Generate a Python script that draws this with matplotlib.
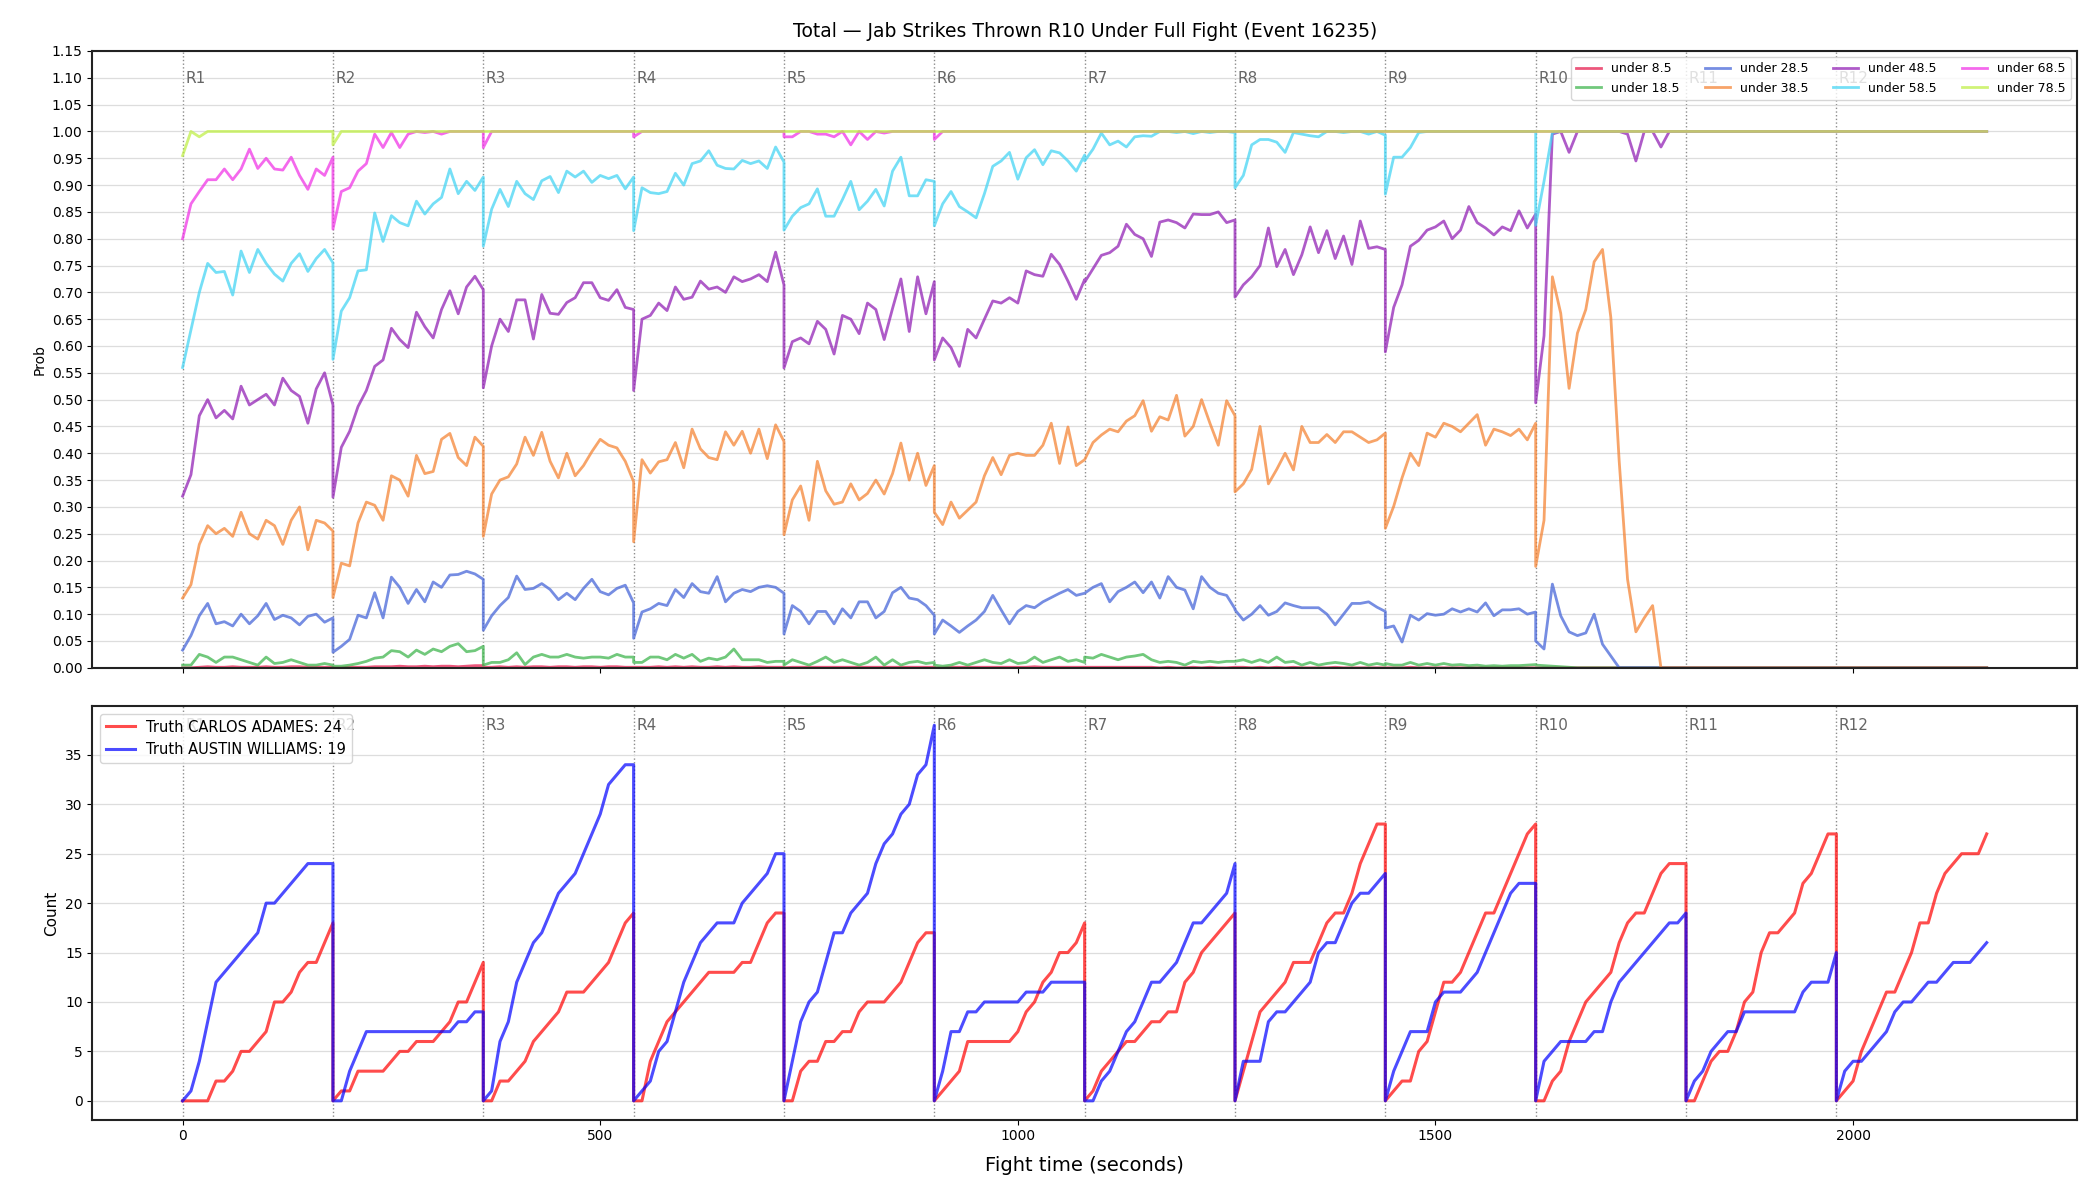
import numpy as np
import matplotlib
matplotlib.use("Agg")
import matplotlib.pyplot as plt

ROUND_LEN = 180
FIGHT_END = 2160
round_starts = list(range(0, FIGHT_END, ROUND_LEN))   # R1..R12
step_t = list(range(0, 181, 10))                       # samples inside a round

# ---- top panel: P(total < line), rounds 1-10, one value every 10 s ----
u85 = [
    [0.0, 0.0, 0.001, 0.002, 0.001, 0.001, 0.002, 0.001, 0.001, 0.001, 0.002, 0.001, 0.001, 0.002, 0.002, 0.001, 0.001, 0.001, 0.001],
    [0.0, 0.0, 0.001, 0.001, 0.001, 0.002, 0.002, 0.002, 0.003, 0.002, 0.002, 0.003, 0.002, 0.003, 0.003, 0.002, 0.003, 0.004, 0.004],
    [0.001, 0.001, 0.002, 0.001, 0.002, 0.001, 0.002, 0.002, 0.001, 0.002, 0.002, 0.001, 0.002, 0.002, 0.001, 0.002, 0.002, 0.001, 0.001],
    [0.001, 0.001, 0.001, 0.002, 0.001, 0.002, 0.001, 0.002, 0.001, 0.001, 0.002, 0.001, 0.002, 0.001, 0.001, 0.002, 0.001, 0.001, 0.001],
    [0.0, 0.001, 0.001, 0.001, 0.001, 0.001, 0.001, 0.001, 0.001, 0.001, 0.001, 0.001, 0.001, 0.001, 0.001, 0.001, 0.001, 0.001, 0.001],
    [0.0, 0.0, 0.001, 0.001, 0.001, 0.001, 0.001, 0.001, 0.001, 0.001, 0.001, 0.001, 0.002, 0.001, 0.001, 0.001, 0.001, 0.001, 0.001],
    [0.001, 0.001, 0.001, 0.001, 0.001, 0.001, 0.001, 0.001, 0.001, 0.0, 0.001, 0.0, 0.0, 0.001, 0.0, 0.001, 0.0, 0.0, 0.001],
    [0.001, 0.001, 0.0, 0.001, 0.0, 0.001, 0.0, 0.001, 0.0, 0.0, 0.0, 0.0, 0.001, 0.0, 0.0, 0.0, 0.0, 0.0, 0.0],
    [0.0, 0.0, 0.0, 0.001, 0.0, 0.0, 0.0, 0.0, 0.0, 0.0, 0.0, 0.0, 0.0, 0.0, 0.0, 0.0, 0.0, 0.0, 0.0],
    [0.0, 0.0, 0.0, 0.0, 0.0, 0.0, 0.0, 0.0, 0.0, 0.0, 0.0, 0.0, 0.0, 0.0, 0.0, 0.0, 0.0, 0.0, 0.0],
]
u185 = [
    [0.005, 0.005, 0.025, 0.02, 0.01, 0.02, 0.02, 0.015, 0.01, 0.005, 0.02, 0.008, 0.01, 0.015, 0.01, 0.005, 0.005, 0.008, 0.005],
    [0.003, 0.003, 0.005, 0.008, 0.012, 0.018, 0.02, 0.032, 0.03, 0.02, 0.033, 0.025, 0.035, 0.03, 0.04, 0.045, 0.03, 0.032, 0.04],
    [0.005, 0.01, 0.01, 0.015, 0.028, 0.006, 0.02, 0.025, 0.02, 0.02, 0.025, 0.02, 0.018, 0.02, 0.02, 0.018, 0.025, 0.02, 0.02],
    [0.01, 0.01, 0.02, 0.02, 0.015, 0.025, 0.018, 0.025, 0.012, 0.018, 0.015, 0.02, 0.035, 0.015, 0.015, 0.015, 0.01, 0.012, 0.012],
    [0.005, 0.015, 0.01, 0.005, 0.012, 0.02, 0.01, 0.015, 0.01, 0.005, 0.01, 0.02, 0.005, 0.015, 0.005, 0.01, 0.012, 0.008, 0.01],
    [0.005, 0.003, 0.005, 0.01, 0.005, 0.01, 0.015, 0.01, 0.008, 0.015, 0.008, 0.01, 0.02, 0.01, 0.015, 0.02, 0.012, 0.015, 0.01],
    [0.02, 0.018, 0.025, 0.02, 0.015, 0.02, 0.022, 0.025, 0.015, 0.01, 0.012, 0.01, 0.005, 0.012, 0.01, 0.012, 0.01, 0.012, 0.012],
    [0.012, 0.015, 0.01, 0.015, 0.01, 0.02, 0.01, 0.012, 0.005, 0.01, 0.005, 0.008, 0.01, 0.008, 0.005, 0.01, 0.005, 0.008, 0.005],
    [0.008, 0.005, 0.005, 0.01, 0.005, 0.008, 0.005, 0.008, 0.005, 0.006, 0.004, 0.005, 0.003, 0.004, 0.003, 0.004, 0.004, 0.005, 0.006],
    [0.005, 0.004, 0.003, 0.002, 0.001, 0.0, 0.0, 0.0, 0.0, 0.0, 0.0, 0.0, 0.0, 0.0, 0.0, 0.0, 0.0, 0.0, 0.0],
]
u285 = [
    [0.033, 0.06, 0.097, 0.12, 0.082, 0.086, 0.078, 0.10, 0.082, 0.097, 0.12, 0.09, 0.098, 0.093, 0.08, 0.096, 0.10, 0.085, 0.093],
    [0.029, 0.04, 0.053, 0.098, 0.093, 0.14, 0.093, 0.169, 0.15, 0.12, 0.146, 0.123, 0.16, 0.15, 0.173, 0.174, 0.18, 0.175, 0.165],
    [0.07, 0.097, 0.116, 0.131, 0.171, 0.146, 0.148, 0.157, 0.146, 0.127, 0.139, 0.127, 0.148, 0.165, 0.142, 0.136, 0.148, 0.154, 0.121],
    [0.055, 0.104, 0.11, 0.12, 0.116, 0.146, 0.131, 0.157, 0.142, 0.139, 0.17, 0.123, 0.139, 0.146, 0.142, 0.15, 0.153, 0.15, 0.139],
    [0.063, 0.116, 0.105, 0.082, 0.105, 0.105, 0.082, 0.11, 0.093, 0.123, 0.123, 0.093, 0.105, 0.14, 0.15, 0.13, 0.127, 0.116, 0.098],
    [0.063, 0.089, 0.078, 0.066, 0.078, 0.089, 0.105, 0.135, 0.108, 0.082, 0.105, 0.116, 0.112, 0.123, 0.131, 0.139, 0.146, 0.135, 0.139],
    [0.139, 0.15, 0.157, 0.123, 0.142, 0.15, 0.16, 0.14, 0.16, 0.13, 0.17, 0.15, 0.145, 0.11, 0.17, 0.15, 0.139, 0.135, 0.11],
    [0.108, 0.089, 0.10, 0.116, 0.098, 0.105, 0.121, 0.116, 0.112, 0.112, 0.112, 0.10, 0.08, 0.10, 0.12, 0.12, 0.123, 0.113, 0.105],
    [0.074, 0.078, 0.048, 0.098, 0.089, 0.101, 0.098, 0.10, 0.11, 0.104, 0.11, 0.104, 0.121, 0.097, 0.108, 0.108, 0.11, 0.10, 0.104],
    [0.05, 0.035, 0.156, 0.097, 0.067, 0.06, 0.065, 0.10, 0.044, 0.022, 0.0, 0.0, 0.0, 0.0, 0.0, 0.0, 0.0, 0.0, 0.0],
]
u385 = [
    [0.13, 0.155, 0.23, 0.265, 0.25, 0.26, 0.245, 0.29, 0.25, 0.24, 0.275, 0.265, 0.23, 0.275, 0.30, 0.22, 0.275, 0.27, 0.255],
    [0.131, 0.195, 0.19, 0.27, 0.309, 0.303, 0.275, 0.358, 0.35, 0.32, 0.396, 0.362, 0.366, 0.426, 0.437, 0.392, 0.377, 0.43, 0.413],
    [0.245, 0.324, 0.35, 0.356, 0.38, 0.43, 0.396, 0.439, 0.385, 0.354, 0.40, 0.358, 0.377, 0.403, 0.426, 0.415, 0.41, 0.385, 0.347],
    [0.235, 0.388, 0.363, 0.384, 0.388, 0.42, 0.373, 0.445, 0.408, 0.392, 0.388, 0.44, 0.415, 0.441, 0.40, 0.445, 0.39, 0.453, 0.422],
    [0.248, 0.313, 0.339, 0.275, 0.385, 0.33, 0.305, 0.309, 0.343, 0.313, 0.325, 0.35, 0.324, 0.362, 0.419, 0.35, 0.40, 0.34, 0.377],
    [0.29, 0.267, 0.309, 0.279, 0.294, 0.309, 0.358, 0.392, 0.36, 0.396, 0.40, 0.396, 0.396, 0.415, 0.456, 0.381, 0.449, 0.377, 0.388],
    [0.388, 0.42, 0.434, 0.445, 0.44, 0.46, 0.47, 0.498, 0.441, 0.468, 0.462, 0.508, 0.432, 0.45, 0.50, 0.456, 0.415, 0.498, 0.47],
    [0.328, 0.343, 0.37, 0.45, 0.343, 0.37, 0.40, 0.369, 0.45, 0.42, 0.42, 0.435, 0.42, 0.44, 0.44, 0.43, 0.42, 0.425, 0.4375],
    [0.26, 0.301, 0.354, 0.40, 0.377, 0.4375, 0.43, 0.456, 0.45, 0.44, 0.456, 0.472, 0.415, 0.445, 0.44, 0.433, 0.445, 0.425, 0.456],
    [0.189, 0.275, 0.729, 0.661, 0.521, 0.624, 0.668, 0.757, 0.78, 0.653, 0.385, 0.165, 0.067, 0.093, 0.116, 0.0, 0.0, 0.0, 0.0],
]
u485 = [
    [0.32, 0.36, 0.47, 0.50, 0.466, 0.48, 0.464, 0.525, 0.49, 0.50, 0.51, 0.49, 0.54, 0.517, 0.506, 0.456, 0.52, 0.55, 0.49],
    [0.318, 0.411, 0.441, 0.487, 0.517, 0.562, 0.574, 0.633, 0.612, 0.597, 0.663, 0.636, 0.615, 0.668, 0.703, 0.66, 0.71, 0.73, 0.705],
    [0.522, 0.60, 0.65, 0.627, 0.686, 0.686, 0.613, 0.696, 0.661, 0.659, 0.681, 0.69, 0.718, 0.718, 0.69, 0.685, 0.705, 0.672, 0.668],
    [0.517, 0.65, 0.657, 0.68, 0.666, 0.71, 0.687, 0.691, 0.721, 0.706, 0.71, 0.70, 0.729, 0.72, 0.725, 0.733, 0.72, 0.775, 0.714],
    [0.559, 0.608, 0.615, 0.604, 0.646, 0.631, 0.585, 0.657, 0.65, 0.623, 0.68, 0.668, 0.612, 0.67, 0.725, 0.627, 0.729, 0.66, 0.72],
    [0.574, 0.615, 0.597, 0.562, 0.631, 0.615, 0.65, 0.684, 0.68, 0.69, 0.68, 0.74, 0.733, 0.73, 0.771, 0.752, 0.721, 0.687, 0.724],
    [0.719, 0.744, 0.769, 0.774, 0.786, 0.827, 0.808, 0.80, 0.767, 0.831, 0.835, 0.83, 0.82, 0.846, 0.845, 0.845, 0.85, 0.83, 0.835],
    [0.691, 0.714, 0.729, 0.75, 0.82, 0.748, 0.78, 0.733, 0.77, 0.822, 0.774, 0.815, 0.763, 0.805, 0.752, 0.833, 0.782, 0.785, 0.78],
    [0.589, 0.672, 0.714, 0.786, 0.797, 0.816, 0.822, 0.833, 0.80, 0.816, 0.86, 0.83, 0.82, 0.807, 0.822, 0.815, 0.852, 0.82, 0.846],
    [0.494, 0.619, 0.995, 1.0, 0.961, 1.0, 1.0, 1.0, 1.0, 1.0, 1.0, 0.995, 0.945, 1.0, 1.0, 0.971, 1.0, 1.0, 1.0],
]
u585 = [
    [0.56, 0.63, 0.70, 0.754, 0.737, 0.739, 0.695, 0.777, 0.737, 0.78, 0.754, 0.734, 0.721, 0.754, 0.772, 0.739, 0.763, 0.78, 0.755],
    [0.575, 0.665, 0.69, 0.74, 0.742, 0.848, 0.795, 0.843, 0.83, 0.824, 0.87, 0.846, 0.865, 0.877, 0.93, 0.884, 0.907, 0.89, 0.915],
    [0.786, 0.855, 0.892, 0.86, 0.907, 0.884, 0.873, 0.908, 0.916, 0.886, 0.926, 0.915, 0.926, 0.905, 0.918, 0.912, 0.918, 0.893, 0.915],
    [0.815, 0.895, 0.886, 0.884, 0.888, 0.922, 0.90, 0.94, 0.945, 0.964, 0.937, 0.931, 0.93, 0.946, 0.94, 0.945, 0.931, 0.971, 0.943],
    [0.816, 0.842, 0.858, 0.865, 0.893, 0.842, 0.842, 0.873, 0.907, 0.854, 0.87, 0.892, 0.861, 0.926, 0.952, 0.88, 0.88, 0.91, 0.907],
    [0.824, 0.865, 0.888, 0.86, 0.85, 0.839, 0.884, 0.935, 0.945, 0.961, 0.911, 0.951, 0.966, 0.938, 0.964, 0.96, 0.945, 0.926, 0.956],
    [0.945, 0.967, 0.997, 0.975, 0.982, 0.971, 0.99, 0.992, 0.991, 1.0, 1.0, 0.998, 1.0, 0.996, 1.0, 0.998, 1.0, 1.0, 0.998],
    [0.895, 0.918, 0.975, 0.985, 0.985, 0.98, 0.961, 0.998, 0.995, 0.992, 0.99, 1.0, 1.0, 0.998, 1.0, 1.0, 0.995, 1.0, 0.993],
    [0.883, 0.952, 0.952, 0.97, 0.998, 1.0, 1.0, 1.0, 1.0, 1.0, 1.0, 1.0, 1.0, 1.0, 1.0, 1.0, 1.0, 1.0, 1.0],
    [0.825, 0.907, 0.998, 1.0, 1.0, 1.0, 1.0, 1.0, 1.0, 1.0, 1.0, 1.0, 1.0, 1.0, 1.0, 1.0, 1.0, 1.0, 1.0],
]
u685 = [
    [0.80, 0.865, 0.888, 0.91, 0.91, 0.93, 0.91, 0.93, 0.967, 0.931, 0.95, 0.93, 0.928, 0.952, 0.918, 0.892, 0.93, 0.918, 0.952],
    [0.818, 0.888, 0.895, 0.926, 0.94, 0.995, 0.97, 0.998, 0.97, 0.995, 1.0, 0.998, 1.0, 0.995, 1.0, 1.0, 1.0, 1.0, 1.0],
    [0.97, 1.0, 1.0, 1.0, 1.0, 1.0, 1.0, 1.0, 1.0, 1.0, 1.0, 1.0, 1.0, 1.0, 1.0, 1.0, 1.0, 1.0, 1.0],
    [0.99, 1.0, 1.0, 1.0, 1.0, 1.0, 1.0, 1.0, 1.0, 1.0, 1.0, 1.0, 1.0, 1.0, 1.0, 1.0, 1.0, 1.0, 1.0],
    [0.99, 0.99, 1.0, 1.0, 0.995, 0.995, 0.99, 1.0, 0.975, 1.0, 0.985, 1.0, 0.997, 1.0, 1.0, 1.0, 1.0, 1.0, 1.0],
    [0.985, 1.0, 1.0, 1.0, 1.0, 1.0, 1.0, 1.0, 1.0, 1.0, 1.0, 1.0, 1.0, 1.0, 1.0, 1.0, 1.0, 1.0, 1.0],
    [1.0, 1.0, 1.0, 1.0, 1.0, 1.0, 1.0, 1.0, 1.0, 1.0, 1.0, 1.0, 1.0, 1.0, 1.0, 1.0, 1.0, 1.0, 1.0],
    [1.0, 1.0, 1.0, 1.0, 1.0, 1.0, 1.0, 1.0, 1.0, 1.0, 1.0, 1.0, 1.0, 1.0, 1.0, 1.0, 1.0, 1.0, 1.0],
    [1.0, 1.0, 1.0, 1.0, 1.0, 1.0, 1.0, 1.0, 1.0, 1.0, 1.0, 1.0, 1.0, 1.0, 1.0, 1.0, 1.0, 1.0, 1.0],
    [1.0, 1.0, 1.0, 1.0, 1.0, 1.0, 1.0, 1.0, 1.0, 1.0, 1.0, 1.0, 1.0, 1.0, 1.0, 1.0, 1.0, 1.0, 1.0],
]
u785 = [
    [0.955, 1.0, 0.99, 1.0, 1.0, 1.0, 1.0, 1.0, 1.0, 1.0, 1.0, 1.0, 1.0, 1.0, 1.0, 1.0, 1.0, 1.0, 1.0],
    [0.975, 1.0, 1.0, 1.0, 1.0, 1.0, 1.0, 1.0, 1.0, 1.0, 1.0, 1.0, 1.0, 1.0, 1.0, 1.0, 1.0, 1.0, 1.0],
    [1.0, 1.0, 1.0, 1.0, 1.0, 1.0, 1.0, 1.0, 1.0, 1.0, 1.0, 1.0, 1.0, 1.0, 1.0, 1.0, 1.0, 1.0, 1.0],
    [1.0, 1.0, 1.0, 1.0, 1.0, 1.0, 1.0, 1.0, 1.0, 1.0, 1.0, 1.0, 1.0, 1.0, 1.0, 1.0, 1.0, 1.0, 1.0],
    [1.0, 1.0, 1.0, 1.0, 1.0, 1.0, 1.0, 1.0, 1.0, 1.0, 1.0, 1.0, 1.0, 1.0, 1.0, 1.0, 1.0, 1.0, 1.0],
    [1.0, 1.0, 1.0, 1.0, 1.0, 1.0, 1.0, 1.0, 1.0, 1.0, 1.0, 1.0, 1.0, 1.0, 1.0, 1.0, 1.0, 1.0, 1.0],
    [1.0, 1.0, 1.0, 1.0, 1.0, 1.0, 1.0, 1.0, 1.0, 1.0, 1.0, 1.0, 1.0, 1.0, 1.0, 1.0, 1.0, 1.0, 1.0],
    [1.0, 1.0, 1.0, 1.0, 1.0, 1.0, 1.0, 1.0, 1.0, 1.0, 1.0, 1.0, 1.0, 1.0, 1.0, 1.0, 1.0, 1.0, 1.0],
    [1.0, 1.0, 1.0, 1.0, 1.0, 1.0, 1.0, 1.0, 1.0, 1.0, 1.0, 1.0, 1.0, 1.0, 1.0, 1.0, 1.0, 1.0, 1.0],
    [1.0, 1.0, 1.0, 1.0, 1.0, 1.0, 1.0, 1.0, 1.0, 1.0, 1.0, 1.0, 1.0, 1.0, 1.0, 1.0, 1.0, 1.0, 1.0],
]
# after R10 the market is settled until the end of the fight
settled = [0.0, 0.0, 0.0, 0.0, 1.0, 1.0, 1.0, 1.0]

line_labels = ["under 8.5", "under 18.5", "under 28.5", "under 38.5",
               "under 48.5", "under 58.5", "under 68.5", "under 78.5"]
line_colors = ["#e6194b", "#3cb44b", "#4363d8", "#f58231",
               "#911eb4", "#42d4f4", "#f032e6", "#bfef45"]

# ---- bottom panel: cumulative jabs within each round, every 10 s ----
carlos = [
    [0, 0, 0, 0, 2, 2, 3, 5, 5, 6, 7, 10, 10, 11, 13, 14, 14, 16, 18],
    [0, 1, 1, 3, 3, 3, 3, 4, 5, 5, 6, 6, 6, 7, 8, 10, 10, 12, 14],
    [0, 0, 2, 2, 3, 4, 6, 7, 8, 9, 11, 11, 11, 12, 13, 14, 16, 18, 19],
    [0, 0, 4, 6, 8, 9, 10, 11, 12, 13, 13, 13, 13, 14, 14, 16, 18, 19, 19],
    [0, 0, 3, 4, 4, 6, 6, 7, 7, 9, 10, 10, 10, 11, 12, 14, 16, 17, 17],
    [0, 1, 2, 3, 6, 6, 6, 6, 6, 6, 7, 9, 10, 12, 13, 15, 15, 16, 18],
    [0, 1, 3, 4, 5, 6, 6, 7, 8, 8, 9, 9, 12, 13, 15, 16, 17, 18, 19],
    [0, 3, 6, 9, 10, 11, 12, 14, 14, 14, 16, 18, 19, 19, 21, 24, 26, 28, 28],
    [0, 1, 2, 2, 5, 6, 9, 12, 12, 13, 15, 17, 19, 19, 21, 23, 25, 27, 28],
    [0, 0, 2, 3, 6, 8, 10, 11, 12, 13, 16, 18, 19, 19, 21, 23, 24, 24, 24],
    [0, 0, 2, 4, 5, 5, 7, 10, 11, 15, 17, 17, 18, 19, 22, 23, 25, 27, 27],
    [0, 1, 2, 5, 7, 9, 11, 11, 13, 15, 18, 18, 21, 23, 24, 25, 25, 25, 27],
]
austin = [
    [0, 1, 4, 8, 12, 13, 14, 15, 16, 17, 20, 20, 21, 22, 23, 24, 24, 24, 24],
    [0, 0, 3, 5, 7, 7, 7, 7, 7, 7, 7, 7, 7, 7, 7, 8, 8, 9, 9],
    [0, 1, 6, 8, 12, 14, 16, 17, 19, 21, 22, 23, 25, 27, 29, 32, 33, 34, 34],
    [0, 1, 2, 5, 6, 9, 12, 14, 16, 17, 18, 18, 18, 20, 21, 22, 23, 25, 25],
    [0, 4, 8, 10, 11, 14, 17, 17, 19, 20, 21, 24, 26, 27, 29, 30, 33, 34, 38],
    [0, 3, 7, 7, 9, 9, 10, 10, 10, 10, 10, 11, 11, 11, 12, 12, 12, 12, 12],
    [0, 0, 2, 3, 5, 7, 8, 10, 12, 12, 13, 14, 16, 18, 18, 19, 20, 21, 24],
    [0, 4, 4, 4, 8, 9, 9, 10, 11, 12, 15, 16, 16, 18, 20, 21, 21, 22, 23],
    [0, 3, 5, 7, 7, 7, 10, 11, 11, 11, 12, 13, 15, 17, 19, 21, 22, 22, 22],
    [0, 4, 5, 6, 6, 6, 6, 7, 7, 10, 12, 13, 14, 15, 16, 17, 18, 18, 19],
    [0, 2, 3, 5, 6, 7, 7, 9, 9, 9, 9, 9, 9, 9, 11, 12, 12, 12, 15],
    [0, 3, 4, 4, 5, 6, 7, 9, 10, 10, 11, 12, 12, 13, 14, 14, 14, 15, 16],
]


def round_times(n_rounds):
    return np.concatenate([r * ROUND_LEN + np.array(step_t) for r in range(n_rounds)])


fig, (ax1, ax2) = plt.subplots(2, 1, figsize=(21, 12), dpi=100, sharex=True,
                               gridspec_kw={"height_ratios": [621, 416]})
fig.subplots_adjust(left=0.044, right=0.989, top=0.9575, bottom=0.067, hspace=0.075)

# top panel
t_top = np.append(round_times(10), FIGHT_END)
series = [u85, u185, u285, u385, u485, u585, u685, u785]
for vals, end_val, lab, col in zip(series, settled, line_labels, line_colors):
    y = np.append(np.concatenate(vals), end_val)
    ax1.plot(t_top, y, color=col, lw=2, alpha=0.73, label=lab)

ax1.set_ylim(0, 1.15)
ax1.set_yticks(np.arange(0, 1.151, 0.05))
ax1.set_yticklabels([f"{v:.2f}" for v in np.arange(0, 1.151, 0.05)])
ax1.set_ylabel("Prob", fontsize=10)
ax1.set_title("Total \u2014 Jab Strikes Thrown R10 Under Full Fight (Event 16235)",
              fontsize=13.5, pad=10)
ax1.legend(loc="upper right", ncol=4, fontsize=9, framealpha=0.8)

# bottom panel
t_bot = round_times(12)
ax2.plot(t_bot, np.concatenate(carlos), color="red", lw=2.2, alpha=0.7,
         label="Truth CARLOS ADAMES: 24")
ax2.plot(t_bot, np.concatenate(austin), color="blue", lw=2.2, alpha=0.7,
         label="Truth AUSTIN WILLIAMS: 19")
ax2.set_ylabel("Count", fontsize=11)
ax2.set_xlabel("Fight time (seconds)", fontsize=14, labelpad=9)
ax2.legend(loc="upper left", fontsize=10.5, framealpha=0.8)

for ax in (ax1, ax2):
    ax.grid(axis="y", color="#dddddd", lw=0.9)
    ax.set_axisbelow(True)
    for s in ax.spines.values():
        s.set_linewidth(1.5)
        s.set_color("#222222")
    ax.tick_params(labelsize=10)
    for i, rs in enumerate(round_starts):
        ax.axvline(rs, color="gray", ls=":", lw=1, alpha=0.9, zorder=0)
        ax.text(rs + 3, 0.955, f"R{i + 1}", transform=ax.get_xaxis_transform(),
                color="#666666", fontsize=11, va="center", ha="left", zorder=1)

fig.savefig("out.png")
